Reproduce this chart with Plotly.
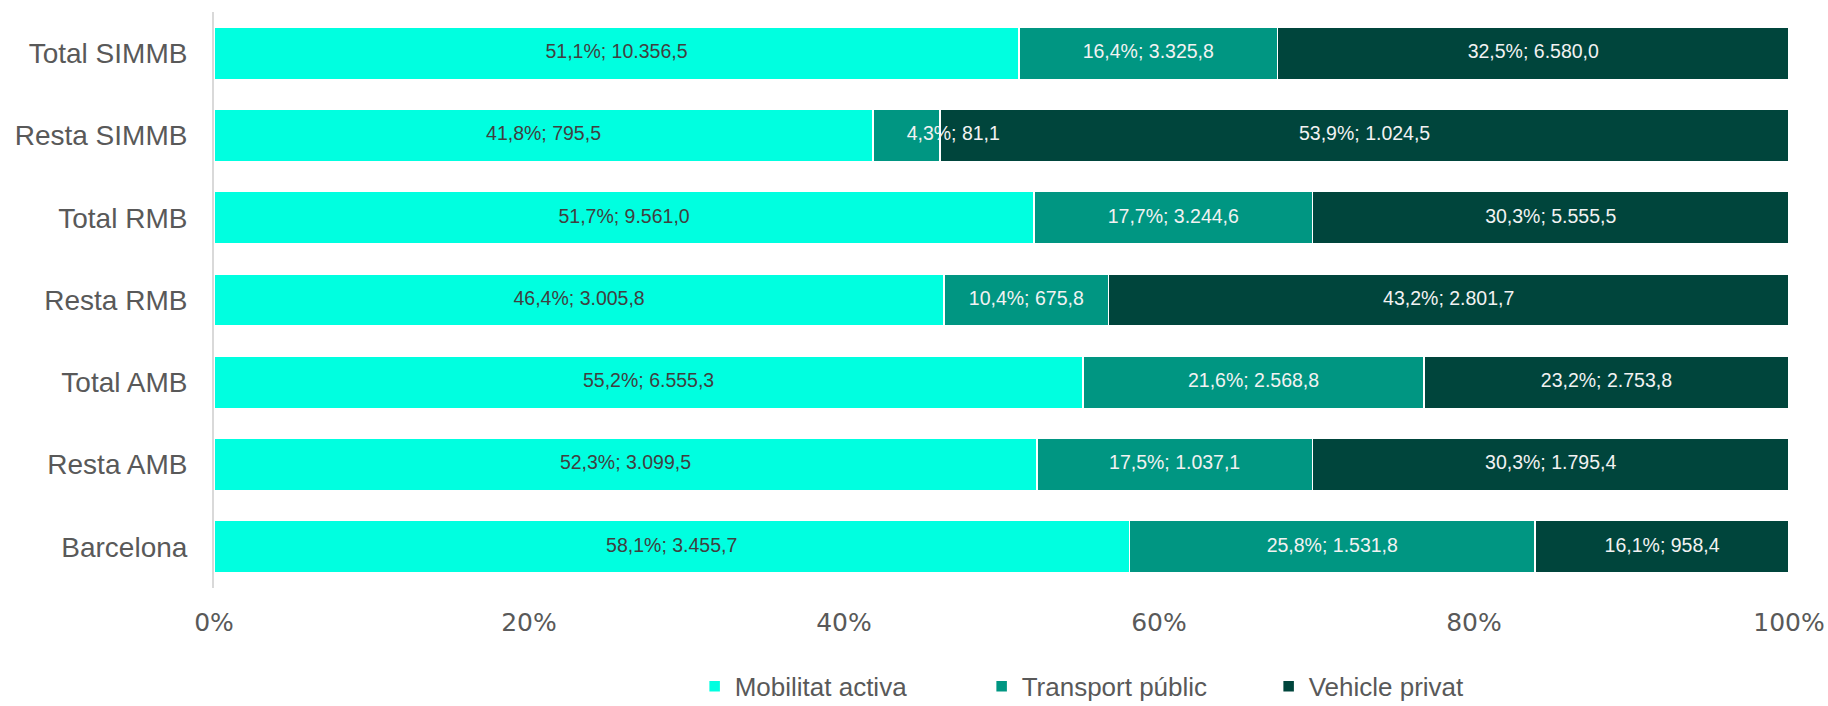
import plotly.graph_objects as go

categories = ["Total SIMMB", "Resta SIMMB", "Total RMB", "Resta RMB", "Total AMB", "Resta AMB", "Barcelona"]
series_names = ["Mobilitat activa", "Transport públic", "Vehicle privat"]

pct_activa = [51.1, 41.8, 51.7, 46.4, 55.2, 52.3, 58.1]
pct_public = [16.4, 4.3, 17.7, 10.4, 21.6, 17.5, 25.8]
pct_privat = [32.5, 53.9, 30.3, 43.2, 23.2, 30.3, 16.1]

val_activa = [10356.5, 795.5, 9561.0, 3005.8, 6555.3, 3099.5, 3455.7]
val_public = [3325.8, 81.1, 3244.6, 675.8, 2568.8, 1037.1, 1531.8]
val_privat = [6580.0, 1024.5, 5555.5, 2801.7, 2753.8, 1795.4, 958.4]

x_ticks = [0, 20, 40, 60, 80, 100]

colors = ["#00FFE0", "#009682", "#00453C"]
text_colors = ["#404040", "#F2F2F2", "#F2F2F2"]

LABEL_FONT = "Liberation Sans, Arial, sans-serif"


def fmt_num(v, dec=1):
    s = f"{v:,.{dec}f}"
    return s.replace(",", "X").replace(".", ",").replace("X", ".")


def labels(pcts, vals):
    return [f"{fmt_num(p)}%; {fmt_num(v)}" for p, v in zip(pcts, vals)]


series_vals = [val_activa, val_public, val_privat]
series_pcts = [pct_activa, pct_public, pct_privat]
totals = [sum(t) for t in zip(*series_vals)]

fig = go.Figure()
for name, vals, col in zip(series_names, series_vals, colors):
    fig.add_trace(
        go.Bar(
            y=categories,
            x=vals,
            name=name,
            orientation="h",
            marker=dict(color=col, line=dict(color="white", width=1.5)),
            hoverinfo="skip",
        )
    )

# data labels drawn on top of all bars, at segment centres (normalised shares)
cum = [0.0] * len(categories)
for vals, pcts, tcol in zip(series_vals, series_pcts, text_colors):
    xs, pos = [], []
    for i, (v, tot) in enumerate(zip(vals, totals)):
        share = 100.0 * v / tot
        xs.append(cum[i] + share / 2)
        pos.append("middle right" if share < 6 else "middle center")
        cum[i] += share
    fig.add_trace(
        go.Scatter(
            x=xs,
            y=categories,
            mode="text",
            text=labels(pcts, vals),
            textposition=pos,
            textfont=dict(family=LABEL_FONT, size=19.5, color=tcol),
            showlegend=False,
            hoverinfo="skip",
        )
    )

fig.update_layout(
    barmode="stack",
    barnorm="percent",
    bargap=0.365,
    width=1828,
    height=706,
    margin=dict(l=214, r=39, t=12, b=118),
    paper_bgcolor="white",
    plot_bgcolor="white",
    font=dict(family="Liberation Sans, Arial, sans-serif", color="#595959"),
    xaxis=dict(
        range=[0, 100],
        tickvals=x_ticks,
        ticktext=[f"{t}%" for t in x_ticks],
        showgrid=False,
        zeroline=False,
        showline=False,
        automargin=False,
        tickfont=dict(family="DejaVu Sans, sans-serif", size=25, color="#595959"),
        ticklabelstandoff=17,
    ),
    yaxis=dict(
        categoryorder="array",
        categoryarray=categories[::-1],
        range=[-0.5, 6.5],
        showgrid=False,
        showline=True,
        linecolor="#D9D9D9",
        linewidth=2,
        automargin=False,
        tickfont=dict(size=28, color="#595959"),
        ticklabelstandoff=19,
    ),
    legend=dict(
        orientation="h",
        xref="container",
        yref="container",
        x=0.38,
        xanchor="left",
        y=0.028,
        yanchor="middle",
        font=dict(family="Liberation Sans, Arial, sans-serif", size=26, color="#595959"),
        traceorder="normal",
        entrywidth=242,
        itemclick=False,
    ),
)

fig.write_html(
    "out.html",
    config={"displayModeBar": False},
    post_script="document.body.style.margin='0';",
)
